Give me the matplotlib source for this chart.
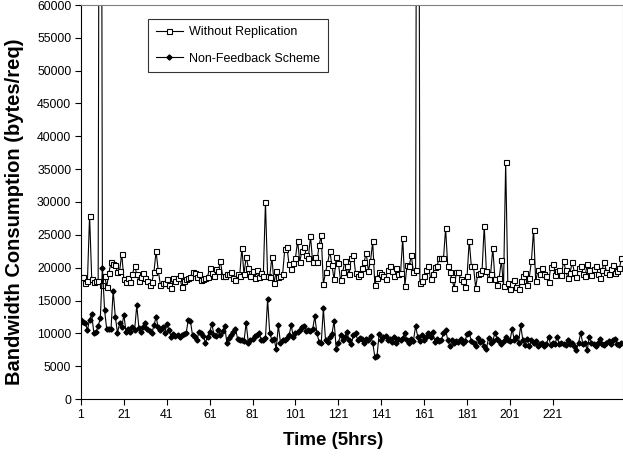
import numpy as np
import matplotlib.pyplot as plt

# ----------------------------------------------------------
# DATA (bytes/req in thousands)
# ----------------------------------------------------------

without_replication = [
    18.6, 18.6, 17.7, 18.0, 27.9, 18.3, 17.8, 17.9, 17.9, 180.0,
    17.3, 18.8, 17.1, 19.2, 20.8, 20.5, 20.4, 19.3, 19.5, 22.1,
    18.2, 17.8, 18.5, 17.8, 19.0, 20.3, 19.0, 18.0, 18.6, 19.2,
    18.5, 18.0, 17.3, 17.8, 19.3, 22.5, 19.6, 17.4, 17.6, 17.7,
    18.3, 17.3, 16.9, 18.4, 18.0, 18.5, 18.9, 17.0, 18.0, 18.3,
    18.4, 18.6, 19.3, 19.2, 18.6, 19.0, 18.1, 18.3, 18.4, 18.6,
    20.0, 19.2, 18.7, 19.8, 19.5, 21.0, 18.8, 18.7, 19.0, 19.1,
    19.3, 18.5, 18.1, 19.0, 18.8, 23.0, 19.0, 21.7, 20.0, 18.7,
    19.5, 18.5, 19.6, 18.6, 19.2, 18.8, 30.0, 18.8, 18.6, 21.6,
    17.6, 19.5, 18.6, 18.7, 19.0, 22.8, 23.2, 20.5, 19.8, 20.7,
    21.5, 24.1, 20.9, 22.6, 23.1, 21.9, 21.5, 24.8, 20.9, 21.6,
    20.9, 23.4, 24.9, 17.5, 19.3, 20.7, 22.5, 20.4, 18.2, 21.6,
    20.7, 18.1, 19.3, 21.0, 20.2, 19.0, 21.5, 22.0, 19.2, 18.7,
    19.1, 19.9, 20.9, 22.2, 19.5, 21.0, 24.0, 17.3, 18.5, 19.3,
    19.0, 18.7, 18.3, 19.7, 20.2, 19.5, 18.8, 20.0, 19.0, 19.2,
    24.5, 17.2, 20.4, 20.2, 21.9, 19.3, 19.7, 180.0, 17.6, 18.0,
    18.7, 19.7, 20.2, 18.3, 19.0, 20.1, 20.3, 21.4, 21.4, 21.4,
    26.0, 20.2, 19.3, 18.2, 16.9, 19.3, 19.4, 18.2, 18.0, 17.0,
    18.7, 24.1, 20.2, 20.2, 16.9, 19.1, 19.2, 19.6, 26.4, 19.5,
    18.3, 19.1, 23.0, 18.2, 17.3, 18.5, 21.1, 17.2, 36.1, 17.6,
    16.8, 17.5, 18.1, 17.0, 16.7, 17.9, 18.7, 19.2, 17.3, 18.5,
    21.0, 25.8, 17.9, 19.6, 19.0, 20.0, 19.0, 18.7, 17.8, 20.1,
    20.6, 18.9, 19.5, 19.7, 18.9, 21.0, 19.6, 18.4, 19.2, 20.8,
    19.4, 18.6, 19.9, 20.3, 19.1, 18.7, 20.5, 19.6, 18.9, 19.8,
    20.2, 19.0, 18.5, 19.7, 20.9, 19.3, 19.0, 19.8, 20.4, 19.2,
    19.5, 19.9, 21.4,
]

non_feedback = [
    12.0, 11.8, 11.6, 10.5, 12.1, 12.9, 10.0, 10.2, 11.1, 12.3,
    19.9, 13.5, 10.6, 10.6, 10.7, 16.5, 12.5, 10.1, 11.5, 11.0,
    12.8, 10.2, 10.7, 10.2, 11.0, 10.5, 14.3, 10.8, 10.2, 11.0,
    11.6, 10.6, 10.3, 10.0, 11.2, 12.5, 10.9, 10.5, 11.0, 10.0,
    11.4, 10.5, 9.5, 9.9, 9.6, 9.8, 9.4, 9.7, 9.9, 10.0,
    12.0, 11.9, 9.7, 9.4, 9.0, 10.2, 10.1, 9.6, 8.6, 9.5,
    10.2, 11.4, 9.8, 9.6, 10.5, 9.8, 10.3, 11.1, 8.6, 9.3,
    9.8, 10.2, 10.7, 9.2, 9.0, 9.0, 8.8, 11.6, 8.6, 9.0,
    9.2, 9.6, 9.8, 10.0, 9.0, 9.0, 9.3, 15.2, 10.0, 9.0,
    9.2, 7.6, 11.2, 8.6, 9.0, 9.0, 9.3, 9.7, 11.2, 9.5,
    10.0, 10.2, 10.5, 11.0, 11.1, 10.4, 10.5, 10.3, 10.6, 12.6,
    10.0, 8.7, 8.5, 13.8, 9.0, 8.7, 9.5, 9.9, 11.9, 7.6,
    8.6, 9.7, 9.0, 9.5, 10.2, 9.0, 8.4, 9.7, 10.0, 9.0,
    9.3, 9.1, 8.6, 9.2, 9.0, 9.6, 8.6, 6.4, 6.5, 9.9,
    9.0, 9.5, 9.6, 9.0, 9.2, 8.7, 9.5, 8.6, 9.2, 9.0,
    9.3, 10.0, 9.0, 8.5, 9.2, 8.9, 11.1, 9.5, 8.9, 9.7,
    9.0, 9.5, 10.0, 9.5, 10.2, 8.7, 9.1, 8.9, 9.0, 10.0,
    10.5, 9.0, 8.0, 9.0, 8.5, 8.8, 8.7, 9.2, 8.6, 8.8,
    9.9, 10.0, 8.9, 8.6, 8.0, 9.3, 8.7, 8.8, 8.0, 7.6,
    9.3, 8.6, 8.8, 10.1, 9.2, 8.8, 8.3, 8.8, 9.5, 9.0,
    8.8, 10.7, 9.0, 9.4, 8.6, 11.2, 9.0, 8.2, 9.1, 8.0,
    9.0, 8.6, 8.8, 8.0, 8.4, 8.6, 8.0, 8.3, 9.5, 8.2,
    8.6, 8.4, 9.5, 8.3, 8.6, 8.4, 8.2, 9.0, 8.4, 8.6,
    8.0, 7.5, 8.6, 10.0, 8.4, 8.6, 7.4, 9.5, 8.6, 8.3,
    8.0, 8.6, 9.1, 8.4, 8.2, 8.6, 8.8, 8.4, 9.0, 9.2,
    8.4, 8.2, 8.5,
]

time_steps = np.arange(1, len(without_replication) + 1)
x_ticks = list(range(1, 222, 20))
y_ticks = list(range(0, 60001, 5000))

# ----------------------------------------------------------
# FIGURE
# ----------------------------------------------------------

plt.rcParams['font.family'] = ['Liberation Sans', 'DejaVu Sans']

fig = plt.figure(figsize=(6.23, 4.61), dpi=100)
ax = fig.add_axes([81 / 623, 62 / 461, (623 - 81) / 623, (399 - 5) / 461])

ax.plot(time_steps, np.array(without_replication) * 1000,
        color='black', linewidth=0.8,
        marker='s', markersize=3.6, markerfacecolor='white',
        markeredgecolor='black', markeredgewidth=0.8,
        label='Without Replication')

ax.plot(time_steps, np.array(non_feedback) * 1000,
        color='black', linewidth=0.8,
        marker='D', markersize=2.6, markerfacecolor='black',
        markeredgecolor='black',
        label='Non-Feedback Scheme')

ax.set_xlim(1, 253.7)
ax.set_ylim(0, 60000)
ax.set_xticks(x_ticks)
ax.set_yticks(y_ticks)
ax.tick_params(axis='both', labelsize=8.8, direction='out',
               length=4, width=0.8, pad=3)

for side in ['top', 'right']:
    ax.spines[side].set_color('#808080')
    ax.spines[side].set_linewidth(0.8)
ax.spines['left'].set_linewidth(0.8)
ax.spines['bottom'].set_linewidth(0.8)

ax.set_xlabel('Time (5hrs)', fontsize=13.5, fontweight='bold')
ax.xaxis.set_label_coords(0.465, -0.083)
ax.set_ylabel('Bandwidth Consumption (bytes/req)', fontsize=14.5,
              fontweight='bold')
ax.yaxis.set_label_coords(-0.105, 0.475)

leg = ax.legend(loc='upper left', bbox_to_anchor=(67 / 542, 380 / 394),
                borderaxespad=0, fontsize=9, frameon=True,
                fancybox=False, edgecolor='black', handlelength=2.2,
                handletextpad=0.5, borderpad=0.6, labelspacing=1.15)
leg.get_frame().set_linewidth(0.8)

fig.savefig('out.png', dpi=100)
